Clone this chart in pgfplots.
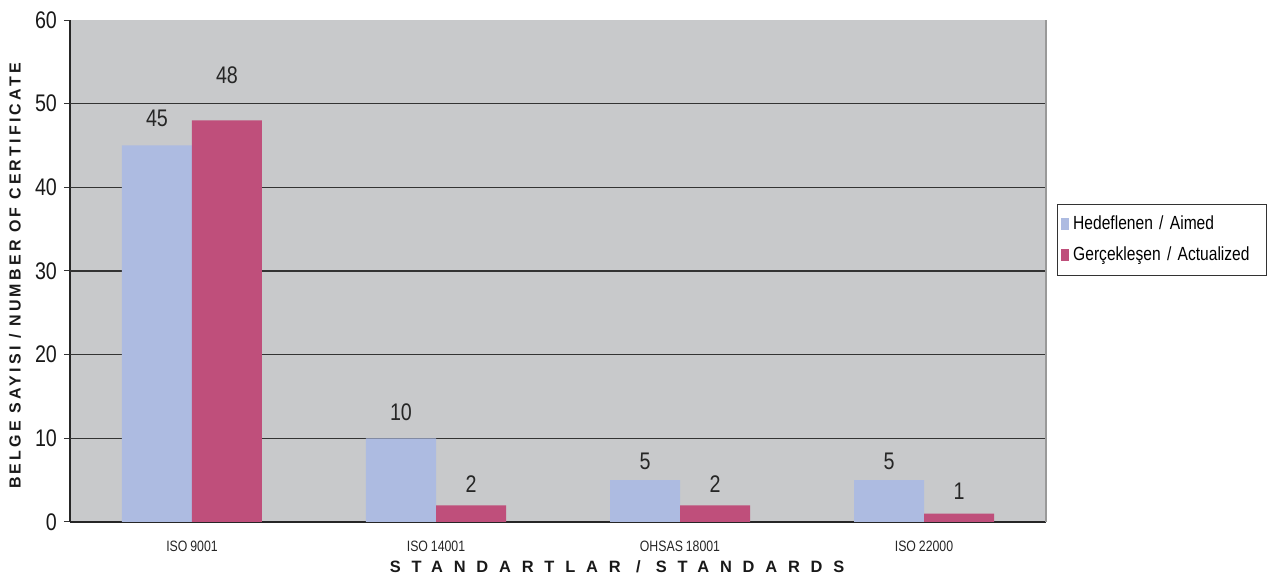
\documentclass[border=0pt]{standalone}
\usepackage{pgfplots}
\pgfplotsset{compat=1.18}
\usepackage{pgfplotstable}
\usepackage{fontspec}
\setmainfont{Liberation Sans}[FakeStretch=0.82, WordSpace=0.85]
\newfontfamily\boldsans{Liberation Sans}
\usetikzlibrary{calc}
\definecolor{bg}{HTML}{C8C9CB}
\definecolor{aim}{HTML}{ADBBE1}
\definecolor{act}{HTML}{BF4F7B}
\definecolor{gridc}{HTML}{333333}

\pgfplotstableread{
x y off
0 45 13.5
1 10 13
2 5 9.5
3 5 9.5
}\aimed
\pgfplotstableread{
x y off
0 48 22.5
1 2 10.5
2 2 10.5
3 1 11
}\actual

\begin{document}
\begin{tikzpicture}
\begin{axis}[
  scale only axis,
  width=488pt, height=251pt,
  xmin=-0.5, xmax=3.5,
  ymin=0, ymax=60,
  ybar=0pt, bar width=35pt,
  axis background/.style={fill=bg},
  axis x line*=bottom, axis y line*=left,
  axis line style={black!85, line width=0.8pt},
  xtick={0,1,2,3},
  xticklabels={ISO 9001, ISO 14001, OHSAS 18001, ISO 22000},
  x tick label style={font=\fontsize{7.5pt}{8pt}\selectfont, text=black!85, yshift=-3pt},
  major x tick style={draw=none},
  extra x ticks={0.5,1.5,2.5},
  extra x tick labels={},
  extra x tick style={major tick length=4pt, tick align=outside, tick style={draw=black!80, line width=0.5pt}},
  ytick={0,10,...,60},
  y tick label style={font=\fontsize{12pt}{13pt}\selectfont, text=black!90},
  /pgf/number format/assume math mode=true,
  major y tick style={draw=black!80, line width=0.5pt},
  major tick length=3pt, tick align=outside,
  extra y ticks={10,20,...,50},
  extra y tick labels={},
  extra y tick style={grid=major, major tick length=0pt, grid style={gridc, line width=0.55pt}},
  ylabel={\boldsans\bfseries\addfontfeature{LetterSpace=20}BELGE SAYISI / NUMBER OF CERTIFICATE},
  ylabel style={at={(axis description cs:-0.0564,0.49)}, anchor=center, font=\fontsize{8pt}{9pt}\selectfont, text=black!90},
  xlabel={\boldsans\bfseries\addfontfeature{LetterSpace=66}STANDARTLAR / STANDARDS},
  xlabel style={at={(axis description cs:0.5605,-0.0896)}, anchor=center, font=\fontsize{8.2pt}{9pt}\selectfont, text=black!90},
  nodes near coords,
  nodes near coords style={font=\fontsize{12pt}{13pt}\selectfont, text=black!85, anchor=center},
  every axis plot post/.append style={
    legend image code/.code={\fill[##1] (0pt,-3pt) rectangle (4pt,3pt);}},
  legend style={at={(1.011,0.562)}, anchor=west, draw=black!80, line width=0.5pt, fill=white,
    font=\fontsize{9.5pt}{10pt}\selectfont, inner xsep=2pt, inner ysep=4pt, row sep=3pt,
    text width=92.5pt},
  legend cell align=left,
  clip=false,
]
\addplot[fill=aim, draw=none,
  visualization depends on={\thisrow{off}\as\myoff},
  every node near coord/.append style={yshift=\myoff}]
  table[x=x,y=y] {\aimed};
\addlegendentry{Hedeflenen / Aimed}
\addplot[fill=act, draw=none,
  visualization depends on={\thisrow{off}\as\myoff},
  every node near coord/.append style={yshift=\myoff}]
  table[x=x,y=y] {\actual};
\addlegendentry{Gerçekleşen / Actualized}
\draw[black!40, line width=0.8pt] (rel axis cs:1,0) -- (rel axis cs:1,1);
\end{axis}
\pgfresetboundingbox
\path ($(current axis.south west)+(-35pt,-29.5pt)$) rectangle ($(current axis.north east)+(110.5pt,10pt)$);
\end{tikzpicture}
\end{document}
